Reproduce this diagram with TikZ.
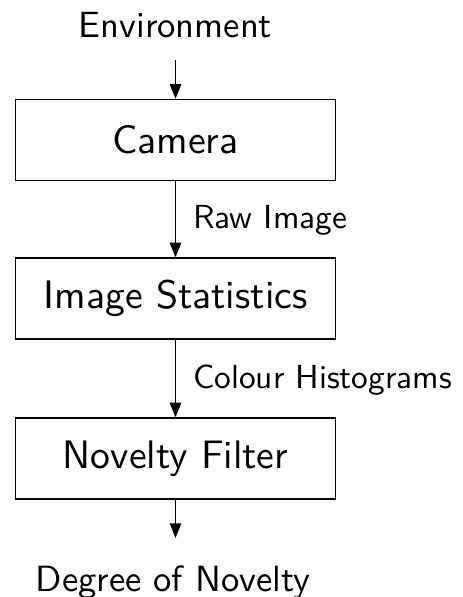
\documentclass[tikz,border=0pt]{standalone}
\usetikzlibrary{arrows.meta}
\newcommand{\blocktext}[1]{\scalebox{2.98}{\sffamily\fontsize{10}{12}\selectfont #1}}
\newcommand{\termtext}[1]{\scalebox{2.74}{\sffamily\fontsize{10}{12}\selectfont #1}}
\newcommand{\lbltext}[1]{\scalebox{2.5}{\sffamily\fontsize{10}{12}\selectfont #1}}
\begin{document}
\begin{tikzpicture}[x=0.75pt,y=-0.75pt,
  block/.style={draw,line width=0.9pt,minimum width=240pt,minimum height=60.75pt,inner sep=0pt},
  term/.style={inner sep=0pt,anchor=base},
  lbl/.style={inner sep=0pt,anchor=base west},
  flow/.style={line width=1.1pt,-{Triangle[length=11pt,width=8.5pt]}}]
\useasboundingbox (0,0) rectangle (462,597);
\node[term] (env) at (175.5,37) {\termtext{Environment}};
\node[block] (cam) at (175.5,140) {\blocktext{Camera}};
\node[block] (stat) at (175.5,298.5) {\blocktext{Image Statistics}};
\node[block] (nov) at (175.5,458.5) {\blocktext{Novelty Filter}};
\node[term] (deg) at (173,591) {\termtext{Degree of Novelty}};
\node[lbl] (l1) at (193,228) {\lbltext{Raw Image}};
\node[lbl] (l2) at (193,388) {\lbltext{Colour Histograms}};
\coordinate (envb) at (175.5,60);
\coordinate (degt) at (175.5,538);
\draw[flow] (envb) -- (cam.north);
\draw[flow] (cam.south) -- (stat.north);
\draw[flow] (stat.south) -- (nov.north);
\draw[flow] (nov.south) -- (degt);
\end{tikzpicture}
\end{document}
